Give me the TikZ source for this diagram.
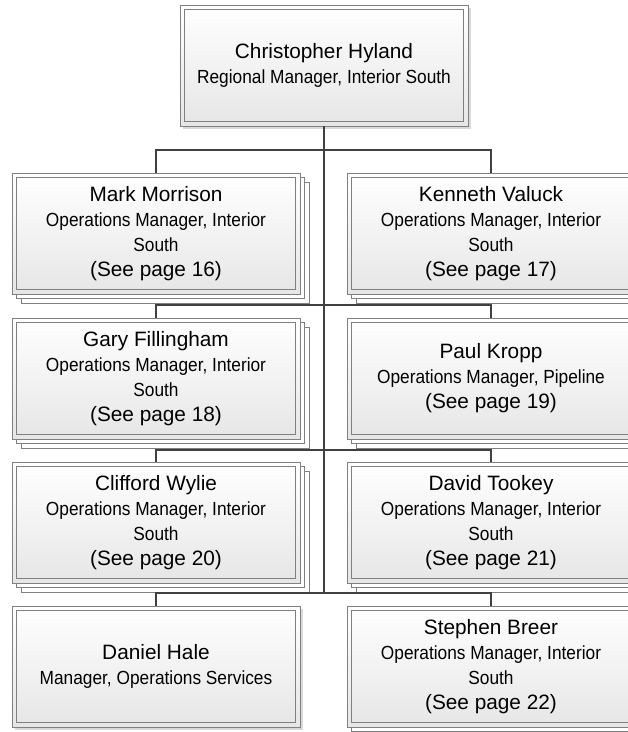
\documentclass[tikz,border=0pt]{standalone}
\usepackage{fontspec}
\setmainfont{Liberation Sans}
\newfontfamily\narrowsans{Liberation Sans}[FakeStretch=0.91]
\usetikzlibrary{shadows}
\definecolor{linegris}{RGB}{64,64,64}
\definecolor{boxgris}{RGB}{128,128,128}
\definecolor{fondgris}{RGB}{230,230,230}
\newcommand{\titre}{\narrowsans\fontsize{19}{25}\selectfont}

\begin{document}
\begin{tikzpicture}[x=1pt,y=-1pt,
		font=\fontsize{20.8}{25}\selectfont,
		poste/.style={draw=boxgris,line width=0.9pt,top color=white,bottom color=fondgris,
			minimum width=288pt,minimum height=121pt,inner sep=0pt,align=center,
			path picture={\draw[boxgris,line width=0.9pt]
				([shift={(4.5pt,-4.5pt)}]path picture bounding box.north west) rectangle
				([shift={(-4.5pt,4.5pt)}]path picture bounding box.south east);}},
		ombre/.style={drop shadow={shadow xshift=3pt,shadow yshift=-3pt,fill=black!25,opacity=.6}},
		pile/.style={copy shadow={shadow xshift=9pt,shadow yshift=-9pt,fill=white,draw=boxgris,line width=0.8pt},
			copy shadow={shadow xshift=4.5pt,shadow yshift=-4.5pt,fill=white,draw=boxgris,line width=0.8pt}},
		lien/.style={draw=linegris,line width=2pt}]
	
	\useasboundingbox (0,0) rectangle (628,732);
	
	% chef
	\node[poste,ombre] (hyland) at (324,65.5) {Christopher Hyland\\{\titre Regional Manager, Interior South}};
	
	% colonne gauche
	\node[poste,pile] (morrison) at (156,233.5) {Mark Morrison\\{\titre Operations Manager, Interior}\\{\titre South}\\(See page 16)};
	\node[poste,pile] (fillingham) at (156,378.5) {Gary Fillingham\\{\titre Operations Manager, Interior}\\{\titre South}\\(See page 18)};
	\node[poste,pile] (wylie) at (156,522.5) {Clifford Wylie\\{\titre Operations Manager, Interior}\\{\titre South}\\(See page 20)};
	\node[poste,ombre] (hale) at (156,666.5) {Daniel Hale\\{\titre Manager, Operations Services}};
	
	% colonne droite
	\node[poste,pile] (valuck) at (491,233.5) {Kenneth Valuck\\{\titre Operations Manager, Interior}\\{\titre South}\\(See page 17)};
	\node[poste,pile] (kropp) at (491,378.5) {Paul Kropp\\{\titre Operations Manager, Pipeline}\\(See page 19)};
	\node[poste,pile] (tookey) at (491,522.5) {David Tookey\\{\titre Operations Manager, Interior}\\{\titre South}\\(See page 21)};
	\node[poste,pile] (breer) at (491,666.5) {Stephen Breer\\{\titre Operations Manager, Interior}\\{\titre South}\\(See page 22)};
	
	% liens
	\coordinate (j1) at (324,150);
	\coordinate (j2) at (324,305);
	\coordinate (j3) at (324,450);
	\coordinate (j4) at (324,593);
	
	\draw[lien] (hyland.south) -- (j4);
	\draw[lien] (morrison.north) -- (morrison.north |- j1) -- (valuck.north |- j1) -- (valuck.north);
	\draw[lien] (fillingham.north) -- (fillingham.north |- j2) -- (kropp.north |- j2) -- (kropp.north);
	\draw[lien] (wylie.north) -- (wylie.north |- j3) -- (tookey.north |- j3) -- (tookey.north);
	\draw[lien] (hale.north) -- (hale.north |- j4) -- (breer.north |- j4) -- (breer.north);
\end{tikzpicture}
\end{document}
